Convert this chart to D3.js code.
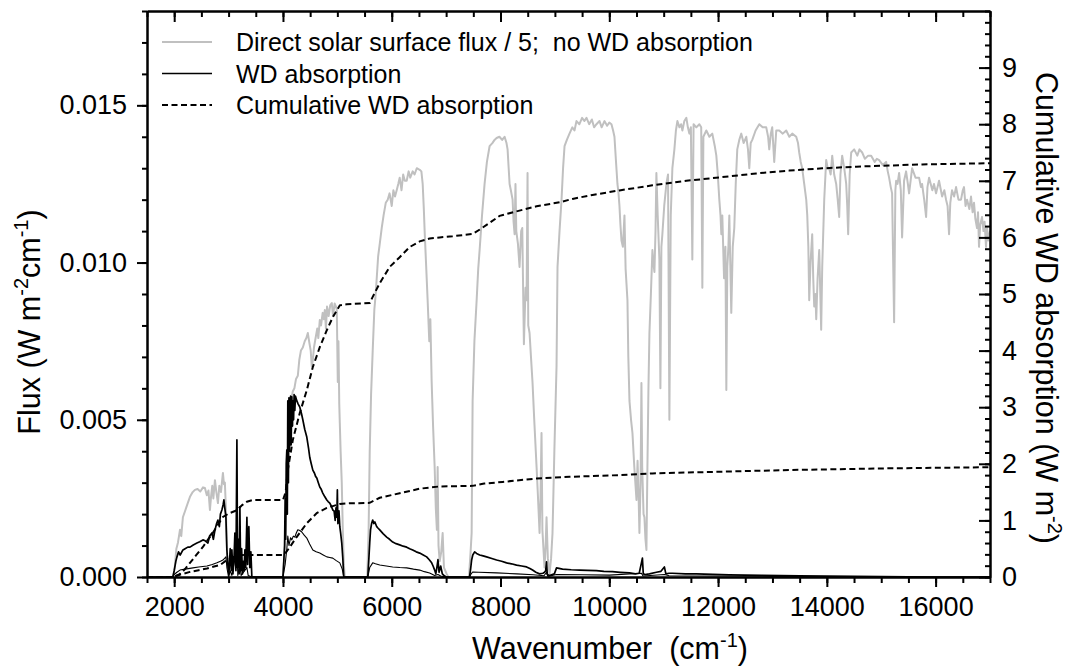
<!DOCTYPE html>
<html>
<head>
<meta charset="utf-8">
<script src="https://cdn.jsdelivr.net/npm/d3@7"></script>
<style>
  body { margin: 0; background: #fff; }
  svg text { font-family: "Liberation Sans", Arial, Helvetica, sans-serif; fill: #000; }
</style>
</head>
<body>
<svg id="chart" width="1074" height="671"></svg>
<script>
// Spectral values: [wavenumber (cm-1), flux in 1e-3 W m-2 cm-1]
const FLUX_UNIT = 1e-3;

// Direct solar surface flux / 5, no WD absorption
const solarFlux = [
  [1500,0],[1980,0],[2010,0.3],[2040,0.9],[2070,1.1],[2106,1.5],[2130,1.3],[2160,1.9],[2200,2.1],[2240,2.3],
  [2290,2.55],[2340,2.7],[2381,2.77],[2430,2.8],[2480,2.72],[2530,2.85],[2565,2.83],[2600,2.6],[2630,2.75],
  [2657,2.13],[2680,2.6],[2700,2.9],[2720,2.5],[2749,3.08],[2775,2.7],[2804,2.35],[2830,2.9],[2860,2.7],
  [2896,3.31],[2915,2.95],[2932,3.0],[2950,2.2],[2969,0.86],[2990,0.3],[3024,0],[4000,0],
  [4030,0.8],[4060,2.5],[4090,4.0],[4120,5.0],[4150,5.6],[4180,5.9],[4210,6.0],[4240,6.3],[4273,6.4],
  [4300,6.9],[4330,7.2],[4365,7.3],[4400,7.5],[4430,7.6],[4457,7.76],[4480,7.5],[4510,7.2],[4530,6.7],
  [4549,6.9],[4570,7.3],[4600,7.6],[4630,7.9],[4650,7.6],[4677,8.17],[4700,8.0],[4730,8.4],[4750,8.2],
  [4769,8.49],[4790,7.9],[4810,8.6],[4840,8.3],[4870,8.65],[4898,8.71],[4920,8.3],[4950,8.7],[4975,8.6],
  [4990,8.5],[5008,6.2],[5020,7.5],[5035,5.5],[5045,4.9],[5060,4.0],[5081,3.0],[5100,1.5],[5120,0.4],
  [5136,0],[5550,0],[5575,1.5],[5595,4.0],[5620,5.8],[5650,7.2],[5680,8.5],[5700,8.9],[5724,9.5],
  [5750,10.2],[5780,10.6],[5816,11.1],[5850,11.5],[5890,11.9],[5926,12.0],[5960,12.2],[6000,11.8],
  [6030,12.3],[6060,12.1],[6091,12.3],[6120,12.5],[6146,12.7],[6180,12.3],[6210,12.8],[6240,12.6],
  [6275,12.6],[6310,12.9],[6340,12.7],[6385,12.9],[6420,12.8],[6460,13.0],[6514,12.95],[6545,12.9],
  [6569,12.5],[6590,11.7],[6605,11.0],[6630,10.0],[6660,8.8],[6690,7.5],[6710,8.2],[6734,6.2],[6760,4.8],
  [6789,3.5],[6810,2.2],[6830,1.5],[6844,3.5],[6860,1.0],[6881,0.5],[6910,0.8],[6936,1.4],[6960,0.3],
  [7010,0.1],[7040,0],[7420,0],[7450,0.8],[7469,1.4],[7487,5.6],[7520,7.5],[7561,8.8],[7590,9.8],
  [7616,10.4],[7660,11.5],[7707,12.5],[7750,13.2],[7799,13.7],[7850,13.8],[7890,13.9],[7928,13.96],
  [7980,14.0],[8030,13.9],[8075,14.0],[8110,13.8],[8130,13.6],[8150,13.0],[8167,12.5],[8190,12.3],
  [8222,12.0],[8240,11.3],[8259,10.9],[8275,12.5],[8290,11.0],[8320,10.6],[8350,9.86],[8380,11.0],
  [8400,11.1],[8430,7.4],[8460,9.2],[8479,8.8],[8497,12.85],[8510,8.0],[8534,7.76],[8560,7.0],[8589,6.17],
  [8620,5.0],[8663,3.5],[8690,2.5],[8718,1.4],[8735,2.5],[8754,4.58],[8770,1.5],[8809,0.3],[8830,1.0],
  [8846,1.9],[8870,0.6],[8901,0.1],[8930,0.6],[8956,1.4],[8990,4.0],[9030,6.7],[9048,9.86],[9085,11.0],
  [9122,12.0],[9150,13.0],[9177,13.7],[9220,13.9],[9268,14.1],[9320,14.3],[9360,14.2],[9397,14.5],
  [9450,14.4],[9500,14.6],[9540,14.5],[9581,14.6],[9630,14.4],[9680,14.55],[9720,14.3],[9764,14.4],
  [9820,14.5],[9860,14.3],[9911,14.5],[9960,14.35],[10000,14.45],[10040,14.4],[10070,14.2],[10095,14.0],
  [10120,13.3],[10150,12.5],[10170,12.2],[10187,11.8],[10205,11.2],[10224,10.7],[10250,10.5],[10279,11.5],
  [10300,9.8],[10334,8.8],[10350,7.0],[10371,5.6],[10400,5.0],[10426,4.58],[10460,3.5],[10500,2.45],
  [10520,3.7],[10540,2.5],[10554,1.4],[10575,3.0],[10591,6.17],[10605,3.5],[10630,2.0],[10646,1.9],
  [10665,1.2],[10683,0.86],[10701,3.5],[10720,6.0],[10738,7.76],[10765,9.0],[10793,10.4],[10810,10.0],
  [10830,9.7],[10850,11.0],[10866,12.85],[10890,11.5],[10921,10.1],[10940,6.0],[10958,10.5],[10976,10.9],
  [11010,11.8],[11050,12.5],[11080,12.8],[11105,5.0],[11130,11.5],[11160,13.0],[11197,13.6],[11225,14.2],
  [11252,14.5],[11290,14.3],[11320,14.4],[11344,14.2],[11380,14.5],[11417,14.6],[11445,14.3],[11472,14.1],
  [11500,14.3],[11527,10.1],[11550,14.4],[11600,14.3],[11656,14.4],[11690,14.3],[11711,9.2],[11730,14.0],
  [11784,14.2],[11840,14.0],[11894,14.1],[11940,13.7],[11968,13.4],[11995,12.8],[12023,12.0],[12045,11.5],
  [12060,10.9],[12078,11.5],[12110,9.5],[12135,10.5],[12152,5.95],[12170,9.86],[12190,10.5],[12207,11.5],
  [12243,8.4],[12270,10.5],[12298,11.1],[12325,12.5],[12353,13.6],[12390,13.9],[12427,14.1],[12470,13.8],
  [12519,14.0],[12550,13.6],[12574,13.0],[12600,13.8],[12629,13.9],[12690,14.2],[12758,14.4],[12820,14.3],
  [12886,14.3],[12920,14.0],[12941,13.6],[12970,14.1],[12996,14.3],[13033,13.2],[13070,14.2],[13125,14.2],
  [13190,14.1],[13253,14.2],[13310,14.0],[13364,14.1],[13437,14.0],[13470,13.8],[13492,13.5],[13520,13.2],
  [13547,13.0],[13584,12.5],[13621,12.0],[13640,11.5],[13660,10.5],[13676,8.8],[13700,10.0],[13731,10.9],
  [13750,9.5],[13768,8.6],[13790,9.0],[13805,8.2],[13830,9.5],[13860,10.4],[13880,9.0],[13896,7.86],
  [13915,9.86],[13952,12.0],[13988,13.26],[14015,13.0],[14043,13.0],[14070,12.8],[14099,13.4],[14135,12.8],
  [14172,12.5],[14200,12.0],[14227,11.45],[14250,12.8],[14282,13.4],[14320,13.0],[14356,12.5],[14375,11.8],
  [14392,10.9],[14420,12.8],[14448,13.5],[14503,13.6],[14560,13.4],[14600,13.6],[14650,13.5],[14700,13.3],
  [14760,13.4],[14815,13.4],[14880,13.2],[14920,13.3],[14962,13.26],[15030,13.1],[15090,13.2],[15120,12.9],
  [15145,12.7],[15175,12.4],[15200,12.2],[15237,8.1],[15260,12.3],[15274,12.6],[15300,12.5],[15329,12.85],
  [15360,12.3],[15384,10.8],[15420,12.6],[15457,12.9],[15490,12.5],[15512,12.2],[15540,12.6],[15568,13.0],
  [15630,12.7],[15696,12.7],[15730,12.4],[15751,12.5],[15790,12.0],[15825,11.45],[15850,12.4],[15880,12.7],
  [15940,12.3],[15970,12.5],[16008,12.2],[16063,12.6],[16120,12.1],[16160,12.3],[16192,12.0],[16220,11.8],
  [16247,10.9],[16270,11.9],[16302,12.3],[16340,12.1],[16376,12.4],[16420,12.0],[16467,12.0],[16500,12.3],
  [16522,12.4],[16550,11.8],[16578,12.0],[16620,11.7],[16651,12.1],[16680,11.6],[16706,11.9],[16730,11.4],
  [16761,11.1],[16780,11.6],[16798,10.5],[16820,11.2],[16853,11.45],[16880,11.0],[16900,11.3],[16927,10.5],
  [16945,11.1],[16970,10.7],[17000,11.0]
];

// WD absorption, larger case
const wdAbsHigh = [
  [1500,0],[1975,0],[2000,0.2],[2030,0.5],[2051,0.64],[2080,0.8],[2110,0.7],[2161,0.86],[2200,0.9],
  [2250,0.95],[2290,0.95],[2350,1.02],[2418,1.08],[2470,1.12],[2528,1.18],[2570,1.15],[2620,1.08],
  [2650,1.3],[2694,1.4],[2720,1.2],[2749,1.49],[2780,1.7],[2804,1.81],[2830,1.6],[2850,2.0],[2877,2.13],
  [2900,2.3],[2914,2.45],[2930,2.2],[2951,1.9],[2969,0.86],[2990,0.3],[3006,0.1],[3030,0.9],[3050,0.2],
  [3061,0.86],[3080,0.1],[3100,0.6],[3116,1.4],[3135,0.2],[3153,4.36],[3165,0.3],[3180,1.2],[3195,0.1],
  [3208,2.23],[3222,0.2],[3240,0.9],[3255,0.1],[3270,0.5],[3285,0.2],[3300,0.86],[3315,0.3],[3337,1.9],
  [3350,0.4],[3360,1.2],[3373,1.6],[3390,0.3],[3410,0.8],[3428,0],[4000,0],[4015,0.5],[4030,1.0],
  [4040,2.5],[4050,1.2],[4060,3.6],[4071,4.04],[4080,2.0],[4089,5.6],[4100,3.0],[4110,5.7],[4120,4.0],
  [4126,5.2],[4140,5.75],[4150,4.2],[4163,5.73],[4175,4.8],[4181,5.6],[4195,5.0],[4205,5.8],[4218,5.3],
  [4230,5.75],[4255,5.6],[4280,5.5],[4310,5.4],[4340,5.2],[4365,5.0],[4400,4.7],[4438,4.45],[4470,4.1],
  [4493,3.8],[4520,3.6],[4549,3.4],[4580,3.3],[4600,3.2],[4622,3.15],[4650,3.0],[4677,2.86],[4700,2.8],
  [4732,2.67],[4770,2.55],[4806,2.45],[4830,2.4],[4861,2.35],[4890,2.25],[4916,2.13],[4940,2.1],
  [4960,1.8],[4975,2.2],[4990,1.9],[5000,2.77],[5010,1.7],[5030,2.1],[5045,1.6],[5060,1.4],[5081,1.08],
  [5100,0.6],[5118,0],[5560,0],[5580,0.6],[5595,1.08],[5610,1.5],[5632,1.72],[5650,1.81],[5670,1.7],
  [5690,1.75],[5724,1.6],[5750,1.55],[5779,1.5],[5840,1.38],[5907,1.27],[5960,1.2],[6018,1.11],
  [6080,1.06],[6146,1.02],[6210,0.98],[6275,0.95],[6330,0.9],[6385,0.86],[6450,0.8],[6514,0.76],
  [6580,0.7],[6642,0.64],[6690,0.55],[6734,0.45],[6760,0.35],[6789,0.22],[6810,0.1],[6830,0.3],
  [6850,0.55],[6870,0.15],[6900,0.35],[6930,0.1],[6960,0.05],[7000,0],[7430,0],[7450,0.25],[7469,0.54],
  [7490,0.7],[7524,0.8],[7560,0.75],[7616,0.7],[7680,0.67],[7744,0.64],[7840,0.59],[7928,0.54],
  [8020,0.5],[8112,0.45],[8200,0.42],[8295,0.38],[8390,0.35],[8479,0.32],[8540,0.27],[8589,0.22],
  [8650,0.15],[8718,0.1],[8780,0.12],[8809,0.15],[8830,0.2],[8846,0.48],[8860,0.08],[8900,0.05],
  [8950,0.08],[8990,0.1],[9030,0.29],[9140,0.25],[9300,0.23],[9452,0.22],[9600,0.21],[9764,0.2],
  [9900,0.18],[10058,0.17],[10200,0.15],[10371,0.13],[10480,0.1],[10550,0.12],[10591,0.45],[10609,0.6],
  [10625,0.1],[10660,0.08],[10738,0.1],[10866,0.15],[10950,0.18],[11013,0.32],[11040,0.1],[11100,0.12],
  [11160,0.12],[11400,0.1],[11600,0.1],[12207,0.07],[12800,0.05],[13500,0.04],[14000,0.03],[14500,0.02],
  [15000,0.01],[15500,0.005],[16000,0],[17000,0]
];

// WD absorption, smaller case
const wdAbsLow = [
  [1500,0],[1975,0],[2000,0.08],[2050,0.15],[2106,0.22],[2200,0.25],[2345,0.29],[2450,0.32],[2602,0.35],
  [2700,0.4],[2786,0.45],[2850,0.5],[2896,0.54],[2930,0.6],[2951,0.64],[2969,0.3],[3000,0],[3030,0.2],
  [3060,0.05],[3153,0.9],[3170,0.05],[3208,0.4],[3230,0.05],[3337,0.3],[3360,0.05],[3428,0],[4000,0],
  [4040,0.4],[4071,0.9],[4089,1.3],[4110,1.0],[4140,1.25],[4163,1.18],[4190,1.3],[4218,1.27],[4245,1.4],
  [4273,1.5],[4310,1.48],[4346,1.43],[4390,1.33],[4438,1.24],[4490,1.05],[4549,0.86],[4610,0.8],
  [4677,0.76],[4740,0.7],[4806,0.64],[4860,0.62],[4916,0.6],[4980,0.52],[5045,0.45],[5090,0.25],[5118,0],
  [5560,0],[5595,0.3],[5650,0.45],[5700,0.42],[5779,0.38],[5900,0.35],[6018,0.32],[6150,0.3],[6275,0.29],
  [6400,0.25],[6514,0.22],[6600,0.17],[6697,0.13],[6789,0.05],[6850,0.08],[6900,0.03],[7000,0],[7430,0],
  [7460,0.1],[7487,0.16],[7600,0.15],[7928,0.13],[8300,0.1],[8600,0.07],[8800,0.04],[8846,0.15],
  [8870,0.02],[9030,0.08],[9500,0.07],[10000,0.06],[10591,0.12],[10620,0.03],[11013,0.08],[11100,0.04],
  [12000,0.03],[13000,0.02],[14000,0.01],[15000,0.005],[16000,0],[17000,0]
];

// Cumulative WD absorption (W m-2), larger and smaller cases
const cumHigh = [
  [1500,0],[1980,0],[2100,0.05],[2200,0.14],[2290,0.25],[2400,0.38],[2528,0.53],[2620,0.66],[2712,0.78],
  [2800,0.92],[2896,1.06],[3000,1.12],[3153,1.18],[3250,1.27],[3337,1.33],[3447,1.36],[4000,1.36],
  [4050,1.5],[4089,1.89],[4181,2.42],[4310,2.9],[4438,3.3],[4549,3.71],[4677,4.06],[4806,4.36],
  [4916,4.59],[5045,4.8],[5172,4.82],[5595,4.84],[5650,4.95],[5779,5.19],[5963,5.48],[6146,5.65],
  [6330,5.83],[6514,5.93],[6697,5.98],[6881,6.0],[7119,6.02],[7487,6.06],[7620,6.14],[7744,6.22],
  [7983,6.38],[8295,6.46],[8663,6.55],[9085,6.62],[9323,6.68],[9691,6.75],[10187,6.83],[10793,6.92],
  [11417,7.0],[12023,7.06],[12703,7.13],[13309,7.18],[13915,7.22],[14540,7.25],[15145,7.27],[15751,7.29],
  [16376,7.3],[17000,7.31]
];
const cumLow = [
  [1500,0],[1980,0],[2100,0.04],[2290,0.09],[2450,0.12],[2602,0.15],[2750,0.19],[2841,0.21],[2969,0.3],
  [3079,0.35],[3263,0.39],[3447,0.39],[4000,0.39],[4060,0.44],[4126,0.53],[4255,0.71],[4438,0.95],
  [4622,1.13],[4806,1.22],[5045,1.29],[5172,1.3],[5595,1.31],[5779,1.4],[6146,1.48],[6514,1.56],
  [6881,1.6],[7487,1.61],[7700,1.65],[8038,1.68],[8663,1.74],[9268,1.77],[10187,1.8],[10793,1.83],
  [12023,1.86],[13309,1.89],[15145,1.92],[17000,1.94]
];

// Axis ticks
const xMajorTicks = [2000, 4000, 6000, 8000, 10000, 12000, 14000, 16000];
const yLeftMajorTicks = [0, 0.005, 0.010, 0.015];
const yRightMajorTicks = [0, 1, 2, 3, 4, 5, 6, 7, 8, 9];

const legendItems = [
  { label: "Direct solar surface flux / 5;  no WD absorption", color: "#c0c0c0", width: 2, dash: null },
  { label: "WD absorption", color: "#000", width: 1.5, dash: null },
  { label: "Cumulative WD absorption", color: "#000", width: 2, dash: "6,3.5" }
];

// ---- layout ----
const svg = d3.select("#chart");
const plot = { left: 147, right: 990, top: 11, bottom: 577 };

const x = d3.scaleLinear().domain([1500, 17000]).range([plot.left, plot.right]);
const yL = d3.scaleLinear().domain([0, 0.018]).range([plot.bottom, plot.top]);
const yR = d3.scaleLinear().domain([0, 10]).range([plot.bottom, plot.top]);

svg.append("defs").append("clipPath").attr("id", "plotClip")
  .append("rect")
  .attr("x", plot.left).attr("y", plot.top)
  .attr("width", plot.right - plot.left).attr("height", plot.bottom - plot.top);

const g = svg.append("g").attr("clip-path", "url(#plotClip)");

const fluxLine = d3.line().x(d => x(d[0])).y(d => yL(d[1] * FLUX_UNIT));
const cumLine = d3.line().x(d => x(d[0])).y(d => yR(d[1]));

g.append("path").datum(solarFlux).attr("d", fluxLine)
  .attr("fill", "none").attr("stroke", "#c0c0c0").attr("stroke-width", 2).attr("stroke-linejoin", "round");
g.append("path").datum(wdAbsLow).attr("d", fluxLine)
  .attr("fill", "none").attr("stroke", "#000").attr("stroke-width", 1.1).attr("stroke-linejoin", "round");
g.append("path").datum(wdAbsHigh).attr("d", fluxLine)
  .attr("fill", "none").attr("stroke", "#000").attr("stroke-width", 1.7).attr("stroke-linejoin", "round");
[cumHigh, cumLow].forEach(series => {
  g.append("path").datum(series).attr("d", cumLine)
    .attr("fill", "none").attr("stroke", "#000").attr("stroke-width", 2).attr("stroke-dasharray", "6,3.5");
});

// ---- axes ----
const tickFont = 27;
const xMinor = d3.range(1500, 17001, 500);
const yLMinor = d3.range(0, 0.0181, 0.001);
const yRMinor = d3.range(0, 10.01, 0.2);

function styleAxis(sel) {
  sel.selectAll("path.domain").attr("stroke-width", 2).attr("stroke", "#000");
  sel.selectAll(".tick line").attr("stroke-width", 2).attr("stroke", "#000");
  sel.selectAll(".tick text").attr("font-size", tickFont).attr("font-family", "Liberation Sans, Arial, sans-serif");
}

// bottom
svg.append("g").attr("transform", `translate(0,${plot.bottom})`)
  .call(d3.axisBottom(x).tickValues(xMinor).tickSize(6).tickSizeOuter(0).tickFormat(""))
  .call(styleAxis);
svg.append("g").attr("transform", `translate(0,${plot.bottom})`)
  .call(d3.axisBottom(x).tickValues(xMajorTicks).tickSize(10).tickSizeOuter(0).tickPadding(10).tickFormat(d3.format("d")))
  .call(styleAxis);
// top (ticks inward)
svg.append("g").attr("transform", `translate(0,${plot.top})`)
  .call(d3.axisTop(x).tickValues(xMinor).tickSize(-6).tickSizeOuter(0).tickFormat(""))
  .call(styleAxis);
svg.append("g").attr("transform", `translate(0,${plot.top})`)
  .call(d3.axisTop(x).tickValues(xMajorTicks).tickSize(-11).tickSizeOuter(0).tickFormat(""))
  .call(styleAxis);
// left
svg.append("g").attr("transform", `translate(${plot.left},0)`)
  .call(d3.axisLeft(yL).tickValues(yLMinor).tickSize(5).tickSizeOuter(0).tickFormat(""))
  .call(styleAxis);
svg.append("g").attr("transform", `translate(${plot.left},0)`)
  .call(d3.axisLeft(yL).tickValues(yLeftMajorTicks).tickSize(10).tickSizeOuter(0).tickPadding(10).tickFormat(d3.format(".3f")))
  .call(styleAxis);
// right (ticks inward, labels outside)
svg.append("g").attr("transform", `translate(${plot.right},0)`)
  .call(d3.axisRight(yR).tickValues(yRMinor).tickSize(-5).tickSizeOuter(0).tickFormat(""))
  .call(styleAxis);
svg.append("g").attr("transform", `translate(${plot.right},0)`)
  .call(d3.axisRight(yR).tickValues(yRightMajorTicks).tickSize(-11).tickSizeOuter(0).tickPadding(12).tickFormat(d3.format("d")))
  .call(styleAxis);

// ---- axis titles (with superscript units) ----
const titleFont = 30.5;
const supFont = 20;
const supShift = 12;
function supTitle(parent, parts) {
  const t = parent.append("text").attr("font-size", titleFont).attr("text-anchor", "middle")
    .style("white-space", "pre");
  let raised = false;
  parts.forEach(p => {
    if (p.sup) {
      t.append("tspan").attr("font-size", supFont).attr("dy", -supShift).text(p.sup);
      raised = true;
    } else {
      const s = t.append("tspan").attr("font-size", titleFont).text(p.text);
      if (raised) { s.attr("dy", supShift); raised = false; }
    }
  });
  return t;
}

supTitle(svg.append("g").attr("transform", "translate(610,659)"),
  [{ text: "Wavenumber  (cm" }, { sup: "-1" }, { text: ")" }]);

supTitle(svg.append("g").attr("transform", "translate(40,322) rotate(-90)"),
  [{ text: "Flux (W m" }, { sup: "-2" }, { text: "cm" }, { sup: "-1" }, { text: ")" }]);

supTitle(svg.append("g").attr("transform", "translate(1036,308) rotate(90)"),
  [{ text: "Cumulative WD absorption (W m" }, { sup: "-2" }, { text: ")" }]);

// ---- legend ----
const legend = svg.append("g");
legendItems.forEach((item, i) => {
  const cy = 42 + i * 31.5;
  legend.append("line")
    .attr("x1", 162).attr("x2", 212).attr("y1", cy).attr("y2", cy)
    .attr("stroke", item.color).attr("stroke-width", item.width)
    .attr("stroke-dasharray", item.dash);
  legend.append("text")
    .attr("x", 236).attr("y", cy + 9)
    .attr("font-size", 25)
    .style("white-space", "pre")
    .text(item.label);
});
</script>
</body>
</html>
